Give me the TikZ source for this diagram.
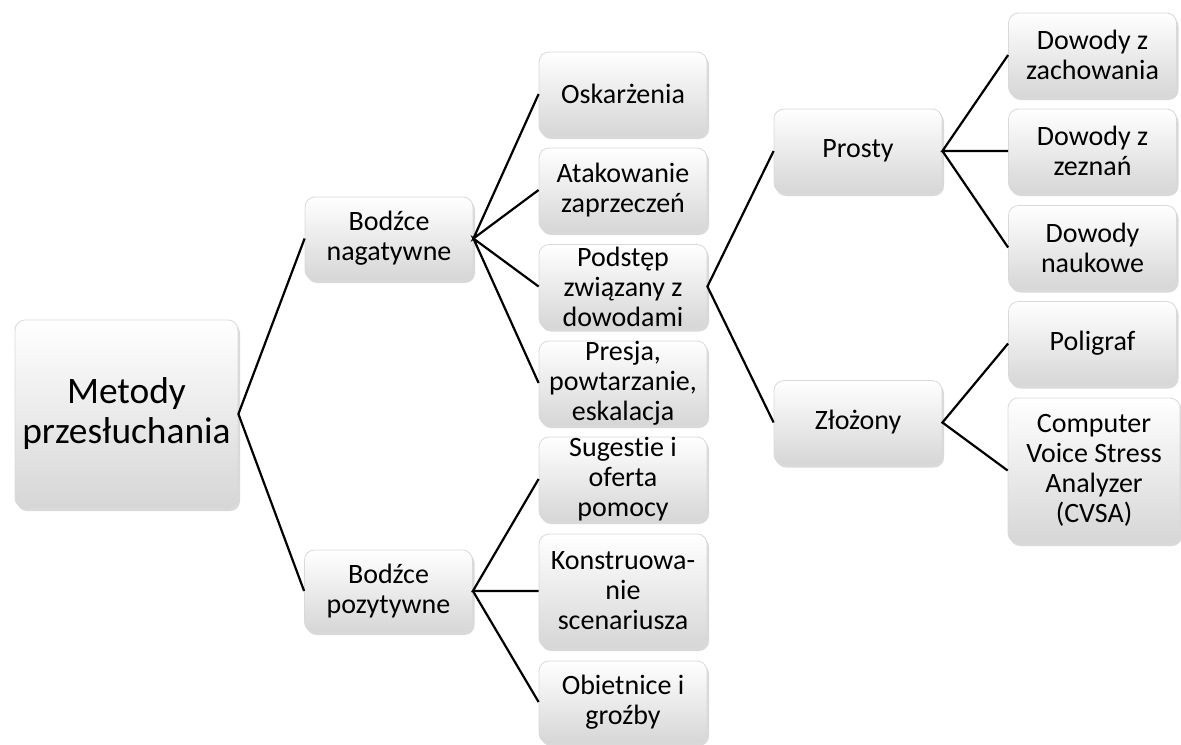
\documentclass[tikz,border=0pt]{standalone}
\usepackage{fontspec}
\setmainfont{Carlito}[Ligatures=NoCommon]
\usepackage{tikz}
\usetikzlibrary{shadows}

\begin{document}
\begin{tikzpicture}[x=0.5pt,y=-0.5pt,
  box/.style={draw=black!15, rounded corners=5pt, top color=white, bottom color=black!16,
    drop shadow={shadow xshift=1pt, shadow yshift=-1.5pt, opacity=0.3},
    align=center, inner xsep=0pt, inner ysep=-2pt, minimum width=84pt, minimum height=42pt,
    font=\fontsize{14}{15}\selectfont},
  link/.style={line width=1.1pt}]
  \useasboundingbox (0,0) rectangle (1181,744);
  \node[box, minimum width=111.5pt, minimum height=94pt, font=\fontsize{18.7}{20}\selectfont] (metody) at (126.5,414) {Metody\\przesłuchania};
  \node[box, minimum height=41.5pt] (negatywne) at (389,238.5) {Bodźce\\nagatywne};
  \node[box, minimum height=41pt] (pozytywne) at (388.5,591) {Bodźce\\pozytywne};
  \node[box] (oskarzenia) at (623,94) {Oskarżenia};
  \node[box] (atakowanie) at (623,190) {Atakowanie\\zaprzeczeń};
  \node[box] (podstep) at (623,286.5) {Podstęp\\związany z\\dowodami};
  \node[box] (presja) at (623,383) {Presja,\\powtarzanie,\\eskalacja};
  \node[box] (sugestie) at (623,479) {Sugestie i\\oferta\\pomocy};
  \node[box, minimum height=57pt] (konstruowanie) at (623,591) {Konstruowa-\\nie\\scenariusza};
  \node[box, minimum height=41pt] (obietnice) at (623,702) {Obietnice i\\groźby};
  \node[box] (prosty) at (858,151) {Prosty};
  \node[box] (zlozony) at (858,422.5) {Złożony};
  \node[box] (zachowania) at (1092.5,55) {Dowody z\\zachowania};
  \node[box] (zeznan) at (1092.5,151) {Dowody z\\zeznań};
  \node[box] (naukowe) at (1092.5,247.5) {Dowody\\naukowe};
  \node[box] (poligraf) at (1092.5,343.5) {Poligraf};
  \node[box, minimum width=86pt, minimum height=72.5pt] (cvsa) at (1094,470.5) {Computer\\Voice Stress\\Analyzer\\(CVSA)};
  \draw[link] (negatywne.west) -- (metody.east) -- (pozytywne.west);
  \draw[link] (oskarzenia.west) -- (negatywne.east) -- (atakowanie.west);
  \draw[link] (podstep.west) -- (negatywne.east) -- (presja.west);
  \draw[link] (sugestie.west) -- (pozytywne.east) -- (konstruowanie.west);
  \draw[link] (pozytywne.east) -- (obietnice.west);
  \draw[link] (prosty.west) -- (podstep.east) -- (zlozony.west);
  \draw[link] (zachowania.west) -- (prosty.east) -- (zeznan.west);
  \draw[link] (prosty.east) -- (naukowe.west);
  \draw[link] (poligraf.west) -- (zlozony.east) -- (cvsa.west);
\end{tikzpicture}
\end{document}
